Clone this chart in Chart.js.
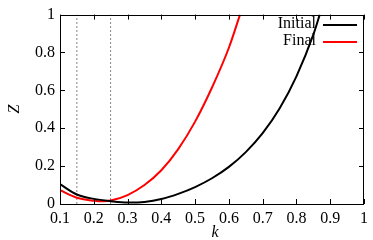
<!DOCTYPE html>
<html><head><meta charset="utf-8">
<script src="https://cdn.jsdelivr.net/npm/chart.js@4.4.0/dist/chart.umd.min.js"></script>
<style>html,body{margin:0;padding:0;background:#fff}#wrap{width:373px;height:240px}</style>
</head><body><div id="wrap"><canvas id="c" width="373" height="240"></canvas></div>
<script>
const initialK = [0.1, 0.15, 0.2, 0.25, 0.3, 0.35, 0.4, 0.45, 0.5, 0.55, 0.6, 0.65, 0.7, 0.75, 0.8, 0.85, 0.869];
const initialZ = [0.105, 0.05, 0.027, 0.015, 0.008, 0.011, 0.026, 0.0535, 0.0895, 0.136, 0.196, 0.274, 0.374, 0.504, 0.674, 0.894, 1.0];
const finalK = [0.1, 0.15, 0.2, 0.23, 0.25, 0.3, 0.35, 0.4, 0.45, 0.5, 0.55, 0.6, 0.633];
const finalZ = [0.073, 0.033, 0.017, 0.014, 0.018, 0.047, 0.10, 0.178, 0.29, 0.435, 0.615, 0.825, 1.0];
const markerK = [0.15, 0.25];
const xTicks = [0.1, 0.2, 0.3, 0.4, 0.5, 0.6, 0.7, 0.8, 0.9, 1];
const yTicks = [0, 0.2, 0.4, 0.6, 0.8, 1];
const seriesNames = ['Initial', 'Final'];
const xTitle = 'k', yTitle = 'Z';

const pts = (xs, ys) => xs.map((x, i) => ({x, y: ys[i]}));
const FONT = '"Liberation Serif", "DejaVu Serif", serif';

const datasets = [
  {label: seriesNames[0], data: pts(initialK, initialZ), borderColor: '#000', borderWidth: 2, pointRadius: 0, cubicInterpolationMode: 'monotone', showLine: true},
  {label: seriesNames[1], data: pts(finalK, finalZ), borderColor: '#f00', borderWidth: 2, pointRadius: 0, cubicInterpolationMode: 'monotone', showLine: true}
];
markerK.forEach(k => datasets.push({label: 'm' + k, data: [{x: k, y: 0}, {x: k, y: 1}], borderColor: '#666', borderWidth: 0.8, borderDash: [2, 2], pointRadius: 0, showLine: true}));

const framePlugin = {
  id: 'frame',
  afterDraw(chart) {
    const ctx = chart.ctx, a = chart.chartArea, xs = chart.scales.x, ys = chart.scales.y;
    ctx.save();
    ctx.strokeStyle = '#000'; ctx.lineWidth = 1;
    ctx.strokeRect(Math.round(a.left) + 0.5, Math.round(a.top) + 0.5, Math.round(a.right - a.left) - 1, Math.round(a.bottom - a.top));
    ctx.beginPath();
    const L = 5;
    xTicks.forEach(v => {
      const px = Math.round(xs.getPixelForValue(v)) + 0.5;
      ctx.moveTo(px, a.bottom); ctx.lineTo(px, a.bottom - L);
      ctx.moveTo(px, a.top); ctx.lineTo(px, a.top + L);
    });
    yTicks.forEach(v => {
      const py = Math.round(ys.getPixelForValue(v)) + 0.5;
      ctx.moveTo(a.left, py); ctx.lineTo(a.left + L, py);
      ctx.moveTo(a.right, py); ctx.lineTo(a.right - L, py);
    });
    ctx.stroke();
    // legend
    ctx.font = '16px ' + FONT;
    ctx.textAlign = 'right'; ctx.textBaseline = 'middle'; ctx.fillStyle = '#000';
    const cols = ['#000', '#f00'];
    seriesNames.forEach((n, i) => {
      const y = 24 + i * 17;
      ctx.fillText(n, 316, y);
      ctx.strokeStyle = cols[i]; ctx.lineWidth = 2;
      ctx.beginPath(); ctx.moveTo(323, y + 1); ctx.lineTo(357, y + 1); ctx.stroke();
    });
    // axis titles
    ctx.font = 'italic 16px ' + FONT;
    ctx.textAlign = 'center';
    ctx.fillText(xTitle, 215, 233);
    ctx.save(); ctx.translate(15, 109); ctx.rotate(-Math.PI / 2); ctx.fillText(yTitle, 0, 0); ctx.restore();
    ctx.restore();
  }
};

new Chart(document.getElementById('c'), {
  type: 'scatter',
  data: {datasets},
  options: {
    responsive: false, animation: false,
    layout: {padding: {top: 13, right: 1, left: 0, bottom: 0}},
    plugins: {legend: {display: false}, tooltip: {enabled: false}},
    scales: {
      x: {type: 'linear', min: 0.1, max: 1,
        afterBuildTicks: s => { s.ticks = xTicks.map(v => ({value: v})); },
        afterFit: s => { s.height = 36; },
        grid: {display: false, drawTicks: false}, border: {display: false},
        ticks: {color: '#000', font: {family: FONT, size: 16}, padding: 5, maxRotation: 0, autoSkip: false, callback: v => String(v)}},
      y: {type: 'linear', min: 0, max: 1,
        afterBuildTicks: s => { s.ticks = yTicks.map(v => ({value: v})); },
        afterFit: s => { s.width = 60; },
        grid: {display: false, drawTicks: false}, border: {display: false},
        ticks: {color: '#000', font: {family: FONT, size: 16}, padding: 5, autoSkip: false, callback: v => String(v)}}
    }
  },
  plugins: [framePlugin]
});
</script></body></html>
